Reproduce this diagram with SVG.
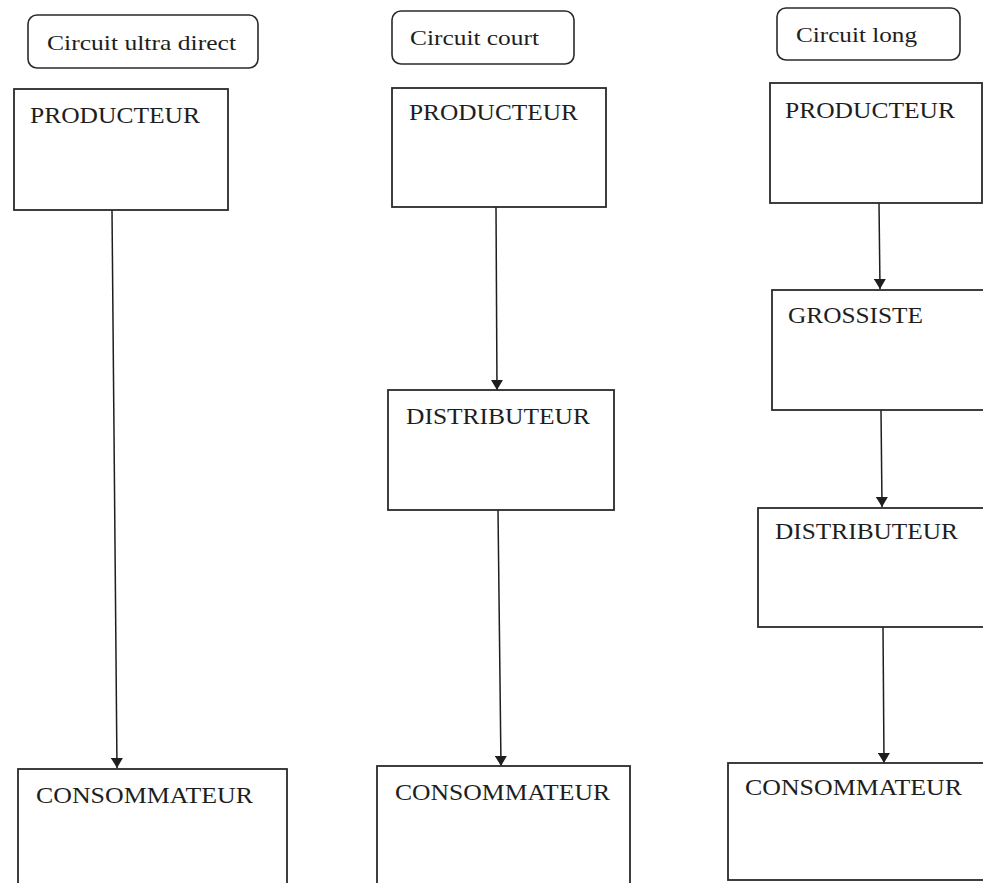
<svg xmlns="http://www.w3.org/2000/svg" width="983" height="883" viewBox="0 0 983 883">
<style>
.hdr{fill:#fff;stroke:#2a2a2a;stroke-width:1.6}
.box{fill:#fff;stroke:#2a2a2a;stroke-width:1.8}
.t{font-family:"Liberation Serif","Times New Roman",serif;font-size:24px;fill:#1e1e1e}
.h{font-family:"Liberation Serif","Times New Roman",serif;font-size:22px;fill:#1e1e1e}
.c{stroke:#1e1e1e;stroke-width:1.5;fill:none;marker-end:url(#ah)}
</style>
<defs>
<marker id="ah" viewBox="0 0 10 12" refX="10" refY="6" markerWidth="10" markerHeight="12" markerUnits="userSpaceOnUse" orient="auto">
<path d="M0,0 L10,6 L0,12 Z" fill="#1e1e1e"/>
</marker>
</defs>
<rect width="983" height="883" fill="#fff"/>
<g id="connectors">
<line class="c" x1="112" y1="210" x2="117" y2="768"/>
<line class="c" x1="496" y1="207" x2="497" y2="390"/>
<line class="c" x1="498" y1="510" x2="501" y2="766"/>
<line class="c" x1="879" y1="203" x2="880" y2="289"/>
<line class="c" x1="881" y1="410" x2="882" y2="507"/>
<line class="c" x1="883" y1="627" x2="884" y2="763"/>
</g>
<g id="hdr1"><rect class="hdr" x="28" y="15" width="230" height="53" rx="9"/><text class="h" x="47" y="50" textLength="189" lengthAdjust="spacingAndGlyphs">Circuit ultra direct</text></g>
<g id="hdr2"><rect class="hdr" x="392" y="11" width="182" height="53" rx="9"/><text class="h" x="410" y="45" textLength="129" lengthAdjust="spacingAndGlyphs">Circuit court</text></g>
<g id="hdr3"><rect class="hdr" x="777" y="8" width="183" height="52" rx="9"/><text class="h" x="796" y="42" textLength="121" lengthAdjust="spacingAndGlyphs">Circuit long</text></g>
<g id="prod1"><rect class="box" x="14" y="89" width="214" height="121"/><text class="t" x="30" y="123" textLength="170" lengthAdjust="spacingAndGlyphs">PRODUCTEUR</text></g>
<g id="cons1"><rect class="box" x="18" y="769" width="269" height="130"/><text class="t" x="36" y="803" textLength="217" lengthAdjust="spacingAndGlyphs">CONSOMMATEUR</text></g>
<g id="prod2"><rect class="box" x="392" y="88" width="214" height="119"/><text class="t" x="409" y="120" textLength="169" lengthAdjust="spacingAndGlyphs">PRODUCTEUR</text></g>
<g id="dist2"><rect class="box" x="388" y="390" width="226" height="120"/><text class="t" x="406" y="424" textLength="184" lengthAdjust="spacingAndGlyphs">DISTRIBUTEUR</text></g>
<g id="cons2"><rect class="box" x="377" y="766" width="253" height="130"/><text class="t" x="395" y="800" textLength="215" lengthAdjust="spacingAndGlyphs">CONSOMMATEUR</text></g>
<g id="prod3"><rect class="box" x="770" y="83" width="212" height="120"/><text class="t" x="785" y="118" textLength="170" lengthAdjust="spacingAndGlyphs">PRODUCTEUR</text></g>
<g id="gros3"><rect class="box" x="772" y="290" width="220" height="120"/><text class="t" x="788" y="323" textLength="135" lengthAdjust="spacingAndGlyphs">GROSSISTE</text></g>
<g id="dist3"><rect class="box" x="758" y="508" width="235" height="119"/><text class="t" x="775" y="539" textLength="183" lengthAdjust="spacingAndGlyphs">DISTRIBUTEUR</text></g>
<g id="cons3"><rect class="box" x="728" y="763" width="265" height="117"/><text class="t" x="745" y="795" textLength="217" lengthAdjust="spacingAndGlyphs">CONSOMMATEUR</text></g>
</svg>
